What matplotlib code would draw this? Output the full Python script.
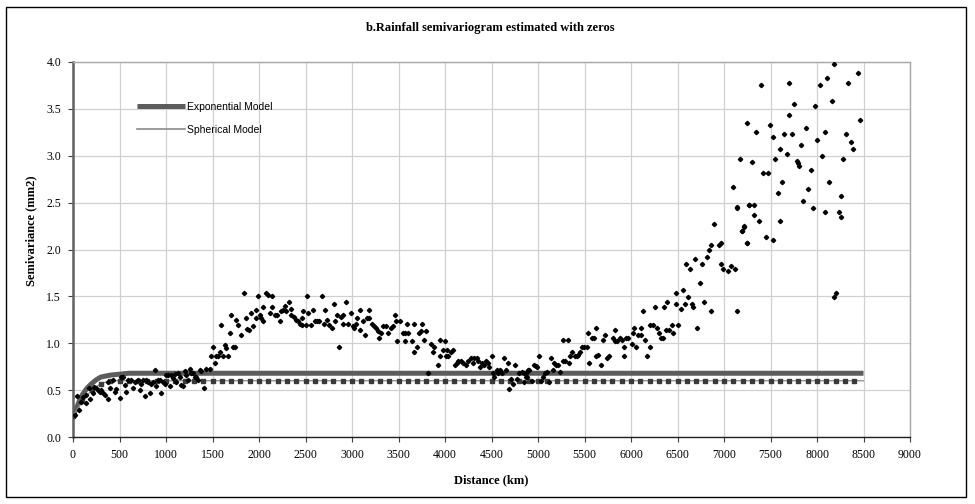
import numpy as np
import matplotlib
matplotlib.use("Agg")
import matplotlib.pyplot as plt
from matplotlib.lines import Line2D
from matplotlib.patches import Rectangle

# ---------------- data ----------------
title = "b.Rainfall semivariogram estimated with zeros"
xlabel = "Distance (km)"
ylabel = "Semivariance (mm2)"
legend_labels = ["Exponential Model", "Spherical Model"]

x_ticks = list(range(0, 9001, 500))
y_ticks = [0.0, 0.5, 1.0, 1.5, 2.0, 2.5, 3.0, 3.5, 4.0]

# empirical semivariogram (distance km, semivariance)
emp_d = [18, 43, 65, 90, 108, 136, 143, 172, 179, 215, 222, 251, 269, 287, 305, 323, 340, 376, 376, 401,
         430, 448, 466, 502, 520, 538, 556, 573, 591, 627, 645, 663, 699, 717, 735, 753, 771, 788, 806, 832,
         842, 860, 878, 896, 914, 932, 950, 968, 986, 1003, 1021, 1039, 1057, 1075, 1093, 1111, 1129, 1147, 1165, 1183,
         1201, 1219, 1237, 1254, 1272, 1290, 1308, 1326, 1344, 1362, 1380, 1409, 1434, 1469, 1487, 1505, 1523, 1541, 1559, 1577,
         1588, 1613, 1631, 1649, 1667, 1684, 1702, 1720, 1738, 1756, 1774, 1810, 1839, 1864, 1871, 1892, 1917, 1935, 1964, 1971,
         1989, 2007, 2025, 2043, 2043, 2072, 2097, 2115, 2143, 2143, 2168, 2193, 2222, 2240, 2258, 2276, 2294, 2322, 2348, 2348,
         2373, 2394, 2419, 2437, 2459, 2459, 2477, 2506, 2520, 2531, 2556, 2577, 2602, 2627, 2649, 2674, 2699, 2710, 2728, 2756,
         2781, 2807, 2817, 2835, 2860, 2878, 2900, 2907, 2932, 2961, 2986, 3007, 3022, 3043, 3057, 3086, 3086, 3115, 3140, 3158,
         3186, 3186, 3212, 3237, 3258, 3283, 3290, 3312, 3337, 3366, 3391, 3416, 3437, 3462, 3473, 3488, 3516, 3545, 3570, 3570,
         3595, 3606, 3642, 3667, 3670, 3695, 3721, 3738, 3749, 3774, 3796, 3821, 3846, 3868, 3885, 3921, 3946, 3946, 3975, 4000,
         4011, 4018, 4036, 4061, 4090, 4108, 4126, 4143, 4169, 4197, 4226, 4251, 4276, 4298, 4312, 4341, 4358, 4376, 4394, 4419,
         4441, 4466, 4477, 4502, 4513, 4527, 4556, 4574, 4591, 4609, 4634, 4656, 4681, 4688, 4706, 4735, 4753, 4778, 4799, 4824,
         4850, 4871, 4896, 4849, 4878, 4885, 4906, 4931, 4957, 4978, 4985, 5014, 5028, 5050, 5075, 5093, 5121, 5136, 5164, 5175,
         5193, 5218, 5236, 5265, 5265, 5290, 5319, 5336, 5344, 5369, 5397, 5415, 5433, 5451, 5469, 5494, 5523, 5541, 5548, 5577,
         5602, 5623, 5623, 5648, 5673, 5695, 5720, 5745, 5767, 5802, 5827, 5827, 5853, 5881, 5899, 5924, 5924, 5946, 5971, 6007,
         6025, 6032, 6053, 6078, 6103, 6103, 6132, 6150, 6175, 6204, 6204, 6233, 6258, 6276, 6304, 6319, 6340, 6354, 6376, 6383,
         6412, 6437, 6455, 6484, 6484, 6509, 6534, 6555, 6580, 6587, 6609, 6634, 6659, 6663, 6688, 6713, 6741, 6759, 6785, 6813,
         6838, 6860, 6863, 6892, 6946, 6967, 6967, 6992, 7046, 7071, 7118, 7143, 7143, 7193, 7215, 7243, 7265,
         7094, 7144, 7172, 7198, 7219, 7244, 7244, 7269, 7298, 7323, 7323, 7345, 7373, 7398, 7423, 7452, 7477, 7495, 7524, 7524,
         7549, 7578, 7603, 7603, 7628, 7649, 7674, 7703, 7703, 7728, 7753, 7782, 7800, 7803, 7828, 7853, 7882, 7904, 7932, 7954,
         7982, 8004, 8033, 8058, 8083, 8083, 8108, 8133, 8158, 8183, 8183, 8205, 8233, 8258, 8258, 8284, 8309, 8337, 8362, 8387,
         8437, 8462]
emp_v = [0.235, 0.437, 0.288, 0.377, 0.43, 0.36, 0.45, 0.52, 0.41, 0.465, 0.537, 0.52, 0.50, 0.48, 0.50, 0.465, 0.45, 0.41, 0.59, 0.52,
         0.61, 0.48, 0.51, 0.42, 0.643, 0.643, 0.555, 0.48, 0.61, 0.61, 0.52, 0.59, 0.61, 0.50, 0.57, 0.61, 0.44, 0.61, 0.59, 0.465,
         0.57, 0.59, 0.71, 0.54, 0.61, 0.61, 0.465, 0.59, 0.57, 0.66, 0.66, 0.54, 0.66, 0.625, 0.67, 0.59, 0.68, 0.64, 0.555, 0.54,
         0.70, 0.66, 0.61, 0.73, 0.68, 0.68, 0.64, 0.64, 0.61, 0.71, 0.70, 0.52, 0.73, 0.73, 0.86, 0.96, 0.79, 0.86, 0.86, 0.91,
         1.19, 0.86, 0.98, 0.945, 0.86, 1.11, 1.30, 0.96, 0.96, 1.25, 1.19, 1.09, 1.54, 1.27, 1.15, 1.14, 1.32, 1.18, 1.355, 1.27,
         1.50, 1.30, 1.27, 1.39, 1.24, 1.54, 1.51, 1.32, 1.50, 1.39, 1.30, 1.30, 1.24, 1.34, 1.355, 1.40, 1.34, 1.44, 1.37, 1.30,
         1.28, 1.25, 1.24, 1.21, 1.27, 1.19, 1.34, 1.19, 1.50, 1.32, 1.19, 1.35, 1.24, 1.24, 1.24, 1.50, 1.21, 1.35, 1.25, 1.19,
         1.16, 1.42, 1.24, 1.30, 0.96, 1.28, 1.30, 1.21, 1.44, 1.21, 1.32, 1.18, 1.16, 1.21, 1.27, 1.35, 1.14, 1.24, 1.09, 1.27,
         1.35, 1.27, 1.21, 1.18, 1.16, 1.13, 1.06, 1.11, 1.18, 1.18, 1.11, 1.16, 1.18, 1.30, 1.24, 1.02, 1.24, 1.11, 1.11, 1.02,
         1.21, 1.11, 1.02, 1.21, 0.91, 0.96, 1.11, 1.13, 1.21, 1.04, 1.13, 0.686, 0.99, 0.91, 0.96, 0.765, 1.04, 0.86, 0.93, 1.02,
         0.86, 0.93, 0.86, 0.91, 0.93, 0.765, 0.785, 0.81, 0.81, 0.785, 0.765, 0.81, 0.84, 0.785, 0.84, 0.84, 0.81, 0.745, 0.785, 0.765,
         0.81, 0.785, 0.745, 0.86, 0.686, 0.645, 0.71, 0.686, 0.71, 0.686, 0.84, 0.71, 0.785, 0.51, 0.615, 0.565, 0.765, 0.615, 0.686, 0.697,
         0.686, 0.645, 0.71, 0.59, 0.697, 0.645, 0.71, 0.60, 0.77, 0.76, 0.75, 0.86, 0.60, 0.645, 0.68, 0.697, 0.59, 0.84, 0.71, 0.79,
         0.77, 0.77, 0.69, 1.04, 0.81, 0.81, 1.04, 0.79, 0.86, 0.91, 0.86, 0.86, 0.88, 0.91, 0.96, 0.96, 0.96, 1.11, 0.79, 1.06,
         1.06, 1.16, 0.86, 0.88, 0.77, 1.04, 1.09, 0.84, 0.86, 1.06, 1.14, 1.02, 1.02, 1.06, 1.04, 0.96, 0.86, 1.06, 1.06, 0.99,
         1.11, 1.16, 0.96, 1.09, 1.09, 1.16, 1.34, 1.04, 0.86, 0.96, 1.19, 1.19, 1.39, 1.16, 1.11, 1.06, 1.06, 1.39, 1.14, 1.44,
         1.14, 1.19, 1.11, 1.42, 1.54, 1.19, 1.37, 1.57, 1.42, 1.845, 1.49, 1.79, 1.42, 1.39, 1.895, 1.16, 1.645, 1.845, 1.44, 1.92,
         1.995, 2.05, 1.34, 2.27, 2.05, 2.07, 1.845, 1.79, 1.77, 1.82, 1.79, 2.45, 1.34, 2.20, 2.25, 2.07, 2.48,
         2.67, 2.445, 2.97, 2.20, 2.24, 3.35, 2.07, 2.47, 2.93, 2.47, 2.37, 3.25, 2.30, 3.75, 2.82, 2.13, 2.82, 3.33, 3.20, 2.10,
         2.97, 2.60, 3.07, 2.30, 2.72, 3.23, 3.02, 3.78, 3.43, 3.23, 3.55, 2.94, 2.92, 2.89, 3.12, 2.52, 3.30, 2.65, 2.85, 2.445,
         3.53, 3.17, 3.75, 2.997, 3.25, 2.40, 3.83, 2.72, 3.58, 3.98, 1.49, 1.54, 2.40, 2.57, 2.35, 2.97, 3.23, 3.78, 3.15, 3.07,
         3.88, 3.38]

# fitted exponential model
exp_d = [0, 25, 50, 75, 100, 150, 200, 250, 300, 400, 500, 600, 8500]
exp_v = [0.22, 0.28, 0.34, 0.40, 0.45, 0.52, 0.57, 0.61, 0.64, 0.66, 0.67, 0.68, 0.68]

# fitted spherical model, one point per 100 km lag
sph_d = list(range(0, 8501, 100))
sph_v = [0.22, 0.38, 0.50, 0.57, 0.60] + [0.60] * 81

# ---------------- figure ----------------
W, H = 975, 504
fig = plt.figure(figsize=(W / 100, H / 100), dpi=100)
fig.patch.set_facecolor("white")
fig.add_artist(Rectangle((6 / W, 1 - 497 / H), 960 / W, 490 / H, transform=fig.transFigure,
                         fill=False, edgecolor="black", linewidth=1.0))

ax = fig.add_axes([73 / W, 1 - 437 / H, 837 / W, 375 / H])
serif = "Liberation Serif"
sans = "Liberation Sans"

ax.set_xlim(0, 9000)
ax.set_ylim(0, 4.0)
ax.set_xticks(x_ticks)
ax.set_yticks(y_ticks)
ax.set_xticklabels([str(t) for t in x_ticks], fontfamily=serif, fontsize=8.5)
ax.set_yticklabels([f"{t:.1f}" for t in y_ticks], fontfamily=serif, fontsize=8.5)
ax.grid(True, color="#d0d0d0", linewidth=0.9, zorder=0)
ax.set_axisbelow(True)
ax.tick_params(axis="both", direction="out", length=3.5, width=0.8, color="#404040", pad=5)

for side, col, lw in [("left", "#606060", 1.8), ("bottom", "#202020", 1.0),
                      ("top", "#a8a8a8", 1.0), ("right", "#a8a8a8", 1.0)]:
    ax.spines[side].set_color(col)
    ax.spines[side].set_linewidth(lw)

# models
ax.plot(exp_d, exp_v, color="#5c5c5c", linewidth=3.6, solid_capstyle="butt", zorder=3)
ax.plot(sph_d, sph_v, color="#8a8a8a", linewidth=0.9, zorder=4)
ax.plot(sph_d[:-1], sph_v[:-1], linestyle="none", marker="s", markersize=2.4,
        color="#3a3a3a", zorder=4)

# empirical points
ax.plot(emp_d, emp_v, linestyle="none", marker="D", markersize=2.2, color="black", zorder=5)

# texts
fig.text(490 / W, 1 - 28 / H, title, ha="center", va="center", fontfamily=serif,
         fontweight="bold", fontsize=9)
ax.set_xlabel(xlabel, fontfamily=serif, fontweight="bold", fontsize=9, labelpad=10)
fig.text(31 / W, 1 - 231 / H, ylabel, rotation=90, ha="center", va="center",
         fontfamily=serif, fontweight="bold", fontsize=9)

handles = [Line2D([], [], color="#5c5c5c", linewidth=3.6, solid_capstyle="butt"),
           Line2D([], [], color="#8a8a8a", linewidth=1.2)]
leg = ax.legend(handles, legend_labels, loc="upper left", bbox_to_anchor=(0.072, 0.905),
                frameon=False, prop={"family": sans, "size": 7.5}, handlelength=4.6,
                handletextpad=0.15, labelspacing=1.25, borderaxespad=0)

fig.savefig("out.png", dpi=100, facecolor="white")
